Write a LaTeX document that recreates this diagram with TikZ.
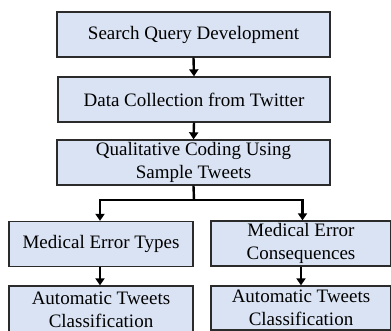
\documentclass[tikz,border=0pt]{standalone}
\usepackage{fontspec}
\setmainfont{Liberation Serif}
\usetikzlibrary{arrows.meta}
\definecolor{boxfill}{HTML}{DAE3F3}
\definecolor{boxline}{HTML}{2B2B2B}
\tikzset{
  stagebox/.style={draw=boxline, fill=boxfill, line width=1.3pt, inner sep=0pt,
    align=center, font=\fontsize{19}{23}\selectfont},
  flowarrow/.style={line width=2.4pt, draw=black, -{Triangle[length=7pt,width=9pt]}},
  flowline/.style={line width=2.4pt, draw=black}
}
\begin{document}
\begin{tikzpicture}[x=1pt,y=-1pt]
\useasboundingbox (0,0) rectangle (391,331);
\begin{scope}
\clip (0,0) rectangle (391,331);
\node[stagebox, minimum width=273pt, minimum height=45pt] (b1) at (193.5,34.5) {Search Query Development};
\node[stagebox, minimum width=272pt, minimum height=45pt] (b2) at (194,99.5) {Data Collection from Twitter};
\node[stagebox, minimum width=273pt, minimum height=45pt] (b3) at (193.5,162.5) {Qualitative Coding Using\\Sample Tweets};
\node[stagebox, minimum width=184pt, minimum height=45pt] (b4) at (101,244) {Medical Error Types};
\node[stagebox, minimum width=180pt, minimum height=45pt] (b5) at (301,243.5) {Medical Error\\Consequences};
\node[stagebox, minimum width=184pt, minimum height=47pt] (b6) at (101,309.5) {Automatic Tweets\\Classification};
\node[stagebox, minimum width=180pt, minimum height=44pt] (b7) at (301,308) {Automatic Tweets\\Classification};
\end{scope}
\coordinate (j) at (194,200);
\draw[flowarrow] (b1.south) -- (b2.north);
\draw[flowarrow] (b2.south) -- (b3.north);
\draw[flowline] (b3.south) -- (j);
\draw[flowarrow] (j) -| ([xshift=-1pt]b4.north);
\draw[flowarrow] (j) -| ([xshift=1.5pt]b5.north);
\draw[flowarrow] ([xshift=-1pt]b4.south) -- ([xshift=-1pt]b6.north);
\draw[flowarrow] (b5.south) -- (b7.north);
\end{tikzpicture}
\end{document}
